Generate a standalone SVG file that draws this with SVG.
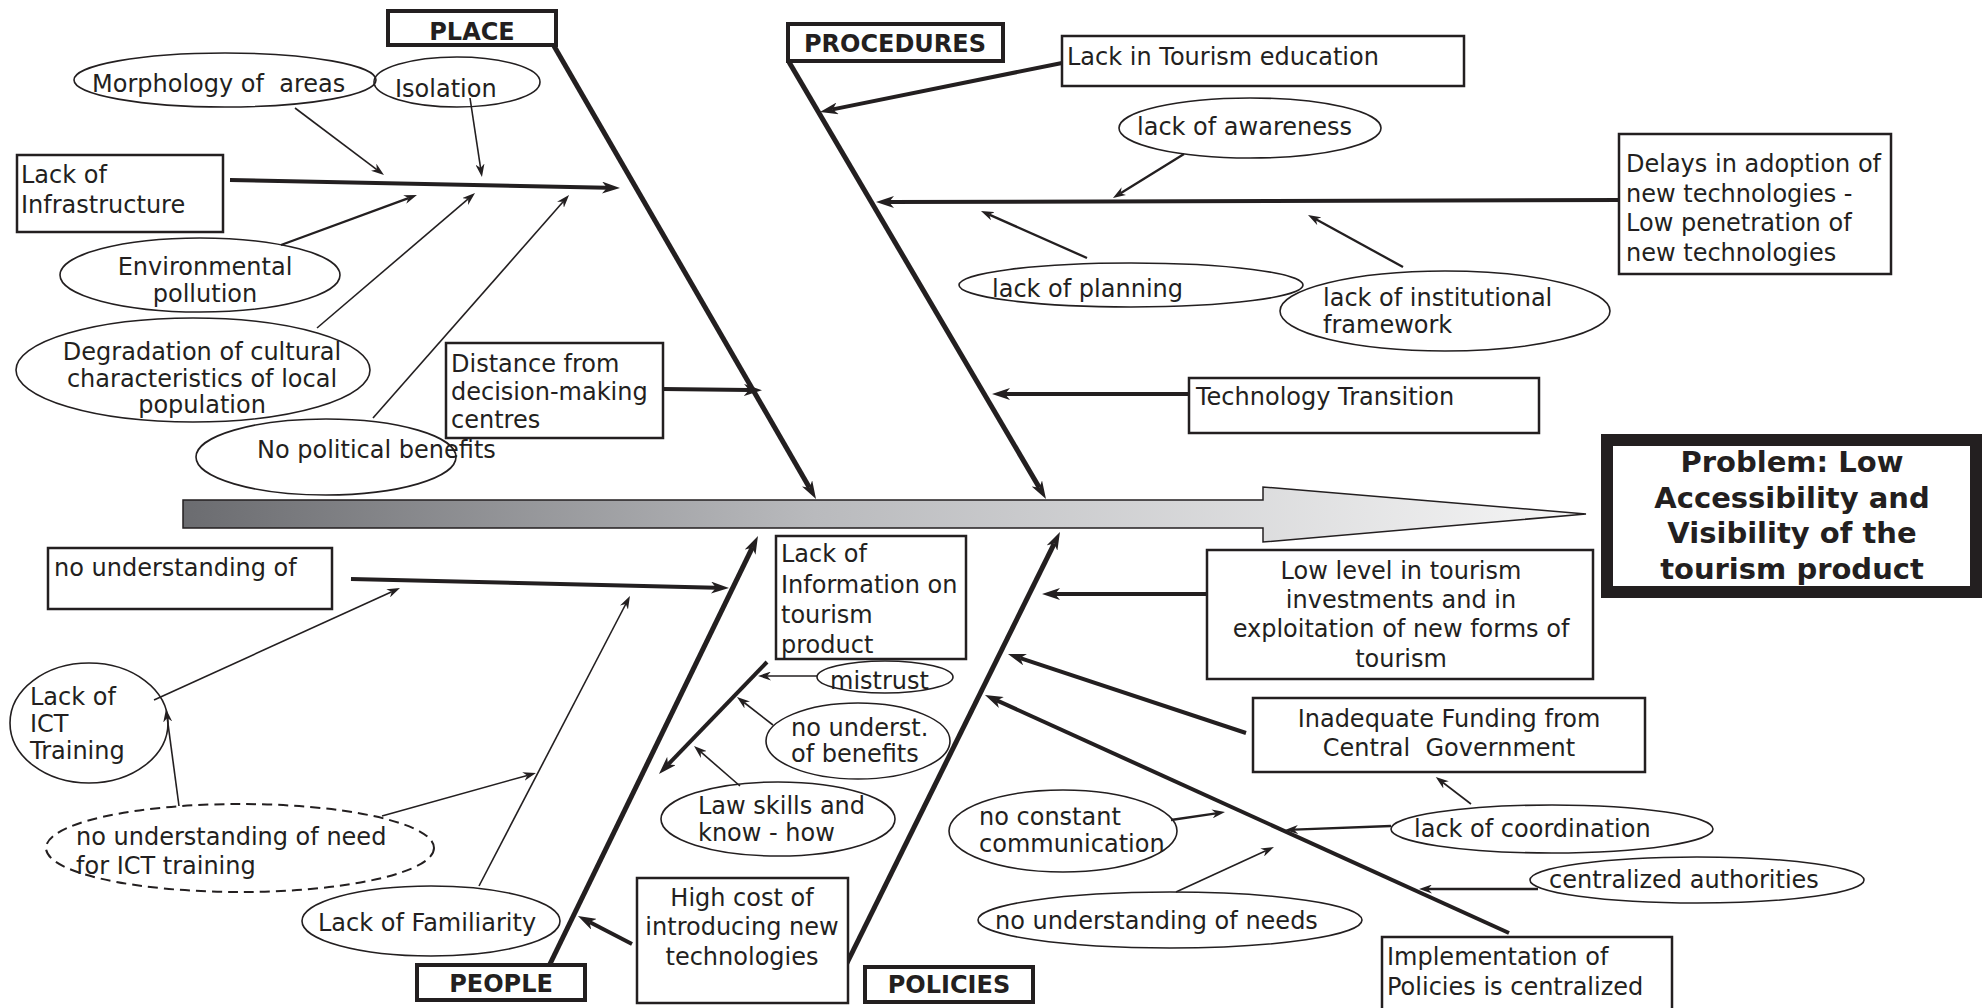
<svg xmlns="http://www.w3.org/2000/svg" width="1988" height="1008" viewBox="0 0 1988 1008">
<style>
text{font-family:"DejaVu Sans","Liberation Sans",sans-serif;font-size:24px;fill:#231f20}
.b{font-weight:bold}
.m{text-anchor:middle}
.cat rect{fill:#fff;stroke:#231f20;stroke-width:4}
.box rect{fill:#fff;stroke:#231f20;stroke-width:2.5}
.ell ellipse{fill:none;stroke:#231f20;stroke-width:1.6}
.dash ellipse{fill:none;stroke:#231f20;stroke-width:2;stroke-dasharray:10 6}
#connectors line{stroke:#231f20;fill:none}
.bone{stroke-width:5}
.thick{stroke-width:4}
.thin{stroke-width:1.6}
.mid{stroke-width:2.3}
</style>
<defs>
<linearGradient id="spineGrad" gradientUnits="userSpaceOnUse" x1="183" y1="0" x2="1586" y2="0">
<stop offset="0" stop-color="#6b6c70"/>
<stop offset="0.45" stop-color="#b9babd"/>
<stop offset="1" stop-color="#f6f6f6"/>
</linearGradient>
<marker id="ahB" viewBox="0 0 18 12" refX="5" refY="6" markerWidth="18" markerHeight="12" markerUnits="userSpaceOnUse" orient="auto">
<path d="M0,0 L18,6 L0,12 L5,6 z" fill="#231f20"/>
</marker>
<marker id="ahS" viewBox="0 0 13 9" refX="4" refY="4.5" markerWidth="13" markerHeight="9" markerUnits="userSpaceOnUse" orient="auto">
<path d="M0,0 L13,4.5 L0,9 L4,4.5 z" fill="#231f20"/>
</marker>
</defs>
<rect width="1988" height="1008" fill="#fff"/>

<g id="spine">
<path d="M183,500 L1263,500 L1263,487 L1586,514 L1263,542 L1263,528 L183,528 Z" fill="url(#spineGrad)" stroke="#231f20" stroke-width="1.5"/>
</g>

<g id="connectors">
<line class="bone" x1="554" y1="46" x2="809.5" y2="487.7" marker-end="url(#ahB)"/>
<line class="bone" x1="789" y1="62" x2="1039.4" y2="487.8" marker-end="url(#ahB)"/>
<line class="bone" x1="549" y1="966" x2="752.3" y2="547.7" marker-end="url(#ahB)"/>
<line class="bone" x1="846" y1="965" x2="1054.2" y2="543.6" marker-end="url(#ahB)"/>
<line class="thick" x1="1509" y1="933" x2="996.8" y2="700.4" marker-end="url(#ahB)"/>
<line class="thick" x1="230" y1="180" x2="607" y2="187.7" marker-end="url(#ahB)"/>
<line class="thick" x1="663" y1="389" x2="749" y2="390" marker-end="url(#ahB)"/>
<line class="thick" x1="1062" y1="63" x2="832.7" y2="109.4" marker-end="url(#ahB)"/>
<line class="thick" x1="1619" y1="200" x2="889" y2="202" marker-end="url(#ahB)"/>
<line class="thick" x1="1189" y1="394" x2="1005" y2="394" marker-end="url(#ahB)"/>
<line class="thick" x1="351" y1="579" x2="716" y2="587.7" marker-end="url(#ahB)"/>
<line class="thick" x1="767" y1="662" x2="668" y2="764.6" marker-end="url(#ahB)"/>
<line class="thick" x1="632" y1="944" x2="589.5" y2="922" marker-end="url(#ahB)"/>
<line class="thick" x1="1207" y1="594" x2="1055" y2="594" marker-end="url(#ahB)"/>
<line class="thick" x1="1246" y1="733" x2="1020.3" y2="658.1" marker-end="url(#ahB)"/>

<line class="thin" x1="295" y1="108" x2="376.8" y2="169.6" marker-end="url(#ahS)"/>
<line class="thin" x1="470" y1="98" x2="480.6" y2="168.1" marker-end="url(#ahS)"/>
<line class="mid" x1="281" y1="245" x2="408.5" y2="198.1" marker-end="url(#ahS)"/>
<line class="thin" x1="317" y1="328" x2="468.2" y2="198.9" marker-end="url(#ahS)"/>
<line class="thin" x1="373" y1="418" x2="563.1" y2="201.8" marker-end="url(#ahS)"/>
<line class="mid" x1="1184" y1="154" x2="1120.6" y2="193.3" marker-end="url(#ahS)"/>
<line class="mid" x1="1087" y1="258" x2="989.2" y2="214.6" marker-end="url(#ahS)"/>
<line class="mid" x1="1403" y1="267" x2="1315.9" y2="219.3" marker-end="url(#ahS)"/>
<line class="thin" x1="154" y1="700" x2="391.8" y2="591.7" marker-end="url(#ahS)"/>
<line class="thin" x1="179" y1="806" x2="167.2" y2="717.9" marker-end="url(#ahS)"/>
<line class="thin" x1="382" y1="816" x2="527.3" y2="775.4" marker-end="url(#ahS)"/>
<line class="thin" x1="479" y1="886" x2="625.8" y2="604" marker-end="url(#ahS)"/>
<line class="thin" x1="817" y1="676" x2="767" y2="676" marker-end="url(#ahS)"/>
<line class="thin" x1="773" y1="725" x2="744.1" y2="702.5" marker-end="url(#ahS)"/>
<line class="thin" x1="740" y1="786" x2="700.8" y2="751.9" marker-end="url(#ahS)"/>
<line class="mid" x1="1171" y1="820" x2="1216.1" y2="813.3" marker-end="url(#ahS)"/>
<line class="thin" x1="1176" y1="892" x2="1265.8" y2="850.8" marker-end="url(#ahS)"/>
<line class="mid" x1="1391" y1="826" x2="1294" y2="829.7" marker-end="url(#ahS)"/>
<line class="thin" x1="1471" y1="804" x2="1442.9" y2="782.5" marker-end="url(#ahS)"/>
<line class="mid" x1="1538" y1="889" x2="1428" y2="889" marker-end="url(#ahS)"/>
</g>

<g id="place" class="cat"><rect x="388" y="11" width="168" height="34"/><text class="b m" x="472" y="40">PLACE</text></g>
<g id="procedures" class="cat"><rect x="788" y="24" width="215" height="37"/><text class="b m" x="895" y="52">PROCEDURES</text></g>
<g id="people" class="cat"><rect x="417" y="965" width="168" height="35"/><text class="b m" x="501" y="992">PEOPLE</text></g>
<g id="policies" class="cat"><rect x="865" y="967" width="168" height="35"/><text class="b m" x="949" y="993">POLICIES</text></g>

<g id="problem"><rect x="1607" y="440" width="369" height="152" fill="#fff" stroke="#231f20" stroke-width="12"/>
<text class="b m" x="1792" y="472" style="font-size:29px">Problem: Low</text>
<text class="b m" x="1792" y="508" style="font-size:29px">Accessibility and</text>
<text class="b m" x="1792" y="543" style="font-size:29px">Visibility of the</text>
<text class="b m" x="1792" y="579" style="font-size:29px">tourism product</text></g>

<g id="lack-infrastructure" class="box"><rect x="17" y="155" width="206" height="77"/><text x="21" y="183">Lack of</text><text x="21" y="213">Infrastructure</text></g>
<g id="distance" class="box"><rect x="446" y="343" width="217" height="95"/><text x="451" y="372">Distance from</text><text x="451" y="400">decision-making</text><text x="451" y="428">centres</text></g>
<g id="tourism-education" class="box"><rect x="1062" y="36" width="402" height="50"/><text x="1067" y="65">Lack in Tourism education</text></g>
<g id="delays" class="box"><rect x="1619" y="134" width="272" height="140"/><text x="1626" y="172">Delays in adoption of</text><text x="1626" y="202">new technologies -</text><text x="1626" y="231">Low penetration of</text><text x="1626" y="261">new technologies</text></g>
<g id="tech-transition" class="box"><rect x="1189" y="378" width="350" height="55"/><text x="1196" y="405">Technology Transition</text></g>
<g id="no-understanding-of" class="box"><rect x="48" y="548" width="284" height="61"/><text x="54" y="576">no understanding of</text></g>
<g id="lack-information" class="box"><rect x="776" y="536" width="190" height="123"/><text x="781" y="562">Lack of</text><text x="781" y="593">Information on</text><text x="781" y="623">tourism</text><text x="781" y="653">product</text></g>
<g id="high-cost" class="box"><rect x="637" y="878" width="211" height="125"/><text class="m" x="742" y="906">High cost of</text><text class="m" x="742" y="935">introducing new</text><text class="m" x="742" y="965">technologies</text></g>
<g id="low-level" class="box"><rect x="1207" y="550" width="386" height="129"/><text class="m" x="1401" y="579">Low level in tourism</text><text class="m" x="1401" y="608">investments and in</text><text class="m" x="1401" y="637">exploitation of new forms of</text><text class="m" x="1401" y="667">tourism</text></g>
<g id="inadequate-funding" class="box"><rect x="1253" y="698" width="392" height="74"/><text class="m" x="1449" y="727">Inadequate Funding from</text><text class="m" x="1449" y="756" xml:space="preserve">Central  Government</text></g>
<g id="implementation" class="box"><rect x="1382" y="937" width="290" height="80"/><text x="1387" y="965">Implementation of</text><text x="1387" y="995">Policies is centralized</text></g>

<g id="morphology" class="ell"><ellipse cx="225" cy="80" rx="151" ry="27"/><text x="92" y="92" xml:space="preserve">Morphology of  areas</text></g>
<g id="isolation" class="ell"><ellipse cx="457" cy="82" rx="83" ry="25"/><text x="395" y="97">Isolation</text></g>
<g id="environmental" class="ell"><ellipse cx="200" cy="275" rx="140" ry="37"/><text class="m" x="205" y="275">Environmental</text><text class="m" x="205" y="302">pollution</text></g>
<g id="degradation" class="ell"><ellipse cx="193" cy="370" rx="177" ry="52"/><text class="m" x="202" y="360">Degradation of cultural</text><text class="m" x="202" y="387">characteristics of local</text><text class="m" x="202" y="413">population</text></g>
<g id="no-political" class="ell"><ellipse cx="326" cy="457" rx="130" ry="38"/><text x="257" y="458">No political benefits</text></g>
<g id="awareness" class="ell"><ellipse cx="1250" cy="128" rx="131" ry="30"/><text x="1137" y="135">lack of awareness</text></g>
<g id="planning" class="ell"><ellipse cx="1131" cy="285" rx="172" ry="22"/><text x="992" y="297">lack of planning</text></g>
<g id="institutional" class="ell"><ellipse cx="1445" cy="311" rx="165" ry="40"/><text x="1323" y="306">lack of institutional</text><text x="1323" y="333">framework</text></g>
<g id="ict-training" class="ell"><ellipse cx="89" cy="723" rx="79" ry="60"/><text x="30" y="705">Lack of</text><text x="30" y="732">ICT</text><text x="30" y="759">Training</text></g>
<g id="need-ict" class="dash"><ellipse cx="240" cy="848" rx="194" ry="44"/><text x="76" y="845">no understanding of need</text><text x="76" y="874">for ICT training</text></g>
<g id="familiarity" class="ell"><ellipse cx="431" cy="921" rx="129" ry="35"/><text x="318" y="931">Lack of Familiarity</text></g>
<g id="mistrust" class="ell"><ellipse cx="885" cy="677" rx="68" ry="16"/><text x="830" y="689">mistrust</text></g>
<g id="benefits" class="ell"><ellipse cx="858" cy="741" rx="92" ry="38"/><text x="791" y="736">no underst.</text><text x="791" y="762">of benefits</text></g>
<g id="law-skills" class="ell"><ellipse cx="778" cy="819" rx="117" ry="37"/><text x="698" y="814">Law skills and</text><text x="698" y="841">know - how</text></g>
<g id="communication" class="ell"><ellipse cx="1063" cy="831" rx="114" ry="41"/><text x="979" y="825">no constant</text><text x="979" y="852">communication</text></g>
<g id="needs" class="ell"><ellipse cx="1170" cy="920" rx="192" ry="28"/><text x="995" y="929">no understanding of needs</text></g>
<g id="coordination" class="ell"><ellipse cx="1552" cy="829" rx="161" ry="24"/><text x="1414" y="837">lack of coordination</text></g>
<g id="centralized" class="ell"><ellipse cx="1697" cy="880" rx="167" ry="23"/><text x="1549" y="888">centralized authorities</text></g>
</svg>
